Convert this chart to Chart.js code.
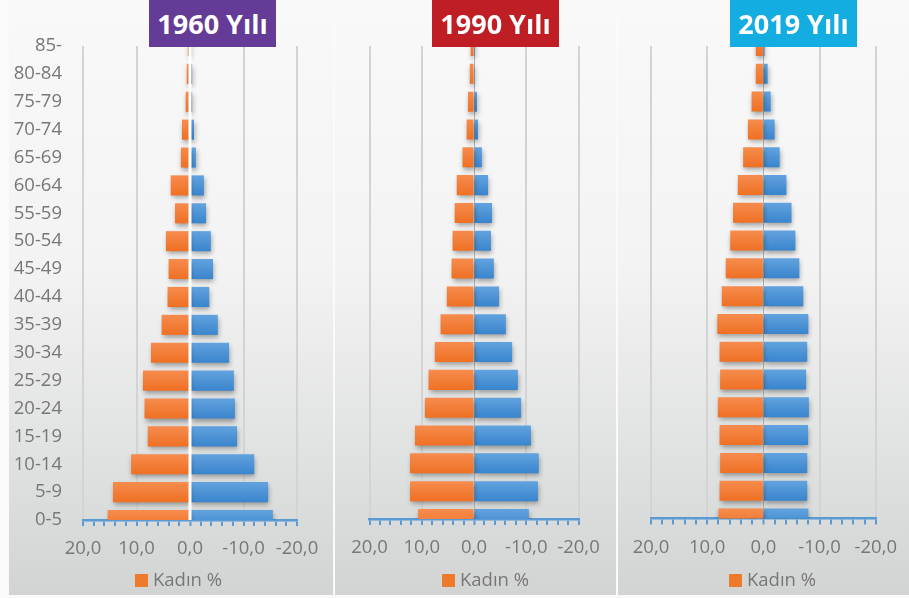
<!DOCTYPE html>
<html>
<head>
<meta charset="utf-8">
<script src="https://cdn.jsdelivr.net/npm/chart.js@4/dist/chart.umd.min.js"></script>
<style>
  body { margin: 0; width: 909px; height: 598px; background: #fafafa; position: relative; overflow: hidden; font-family: "Open Sans", sans-serif; }
  .panel { position: absolute; top: 0; height: 595px; background: linear-gradient(#f9f9f9 0%, #f3f3f3 45%, #d2d4d4 100%); }
  canvas { position: absolute; top: 0; }
  .badge { position: absolute; top: 0; height: 47px; line-height: 47px; color: #fff; font-weight: bold; font-size: 27px; text-align: center; }
  .legend { position: absolute; top: 567px; font-size: 18.5px; color: #777; line-height: 24px; white-space: nowrap; }
  .legend span.box { display: inline-block; width: 13px; height: 13px; background: #f07a2c; margin-right: 5px; vertical-align: -1px; }
</style>
</head>
<body>
<div class="panel" style="left:9px;width:324px"></div>
<div class="panel" style="left:335px;width:281px"></div>
<div class="panel" style="left:618px;width:291px"></div>

<canvas id="c1960" width="324" height="595" style="left:9px"></canvas>
<canvas id="c1990" width="281" height="595" style="left:335px"></canvas>
<canvas id="c2019" width="291" height="595" style="left:618px"></canvas>

<div class="badge" style="left:149px;width:127px;background:#643b97">1960 Yılı</div>
<div class="badge" style="left:432px;width:127px;background:#c01e25">1990 Yılı</div>
<div class="badge" style="left:730px;width:127px;background:#14ade2">2019 Yılı</div>

<div class="legend" style="left:135px"><span class="box"></span>Kadın %</div>
<div class="legend" style="left:442px"><span class="box"></span>Kadın %</div>
<div class="legend" style="left:729px"><span class="box"></span>Kadın %</div>

<script>
const ages = ["0-5", "5-9", "10-14", "15-19", "20-24", "25-29", "30-34", "35-39", "40-44",
  "45-49", "50-54", "55-59", "60-64", "65-69", "70-74", "75-79", "80-84", "85-"];

const xTicks = [20, 10, 0, -10, -20];

// kadın on the left (positive), erkek on the right (negative)
const kadin1960 = [15.4, 14.4, 11.0, 7.9, 8.5, 8.8, 7.3, 5.3, 4.2, 4.0, 4.5, 2.8, 3.6, 1.7, 1.5, 0.8, 0.6, 0.4];
const erkek1960 = [-15.5, -14.6, -12.0, -8.8, -8.4, -8.2, -7.3, -5.2, -3.6, -4.3, -3.9, -3.0, -2.6, -1.1, -0.75, -0.4, -0.4, -0.2];

const kadin1990 = [10.7, 12.25, 12.25, 11.3, 9.4, 8.7, 7.5, 6.4, 5.2, 4.3, 4.1, 3.7, 3.3, 2.2, 1.4, 1.15, 0.8, 0.64];
const erkek1990 = [-10.5, -12.25, -12.4, -10.9, -9.0, -8.4, -7.3, -6.1, -4.8, -3.8, -3.25, -3.45, -2.7, -1.5, -0.77, -0.57, -0.15, -0.2];

const kadin2019 = [8.0, 7.8, 7.7, 7.8, 8.1, 7.7, 7.8, 8.2, 7.4, 6.7, 5.9, 5.4, 4.55, 3.6, 2.75, 2.1, 1.35, 1.35];
const erkek2019 = [-8.0, -7.8, -7.8, -7.95, -8.1, -7.6, -7.8, -8.0, -7.1, -6.4, -5.7, -5.0, -4.1, -2.9, -2.0, -1.3, -0.76, -0.2];

const GREY = "#777777";
const AXIS_BLUE = "#5b9bd5";

// vertical gradient per bar, like the office "subtle effect" fill
const barFill = (top, bottom) => (ctx) => {
  const chart = ctx.chart;
  const y = chart.scales && chart.scales.y;
  if (!y || ctx.type !== "data") return bottom;
  const cy = y.getPixelForValue(ctx.dataIndex);
  if (!isFinite(cy)) return bottom;
  const g = chart.ctx.createLinearGradient(0, cy - 10, 0, cy + 10);
  g.addColorStop(0, top);
  g.addColorStop(1, bottom);
  return g;
};

const barShadow = {
  id: "barShadow",
  beforeDatasetsDraw(chart) {
    const c = chart.ctx;
    c.save();
    c.shadowColor = "rgba(0,0,0,0.35)";
    c.shadowBlur = 5;
    c.shadowOffsetX = 1;
    c.shadowOffsetY = 3;
  },
  afterDatasetsDraw(chart) {
    chart.ctx.restore();
  },
};

const centerLine = {
  id: "centerLine",
  afterDatasetsDraw(chart, args, opts) {
    if (!opts.color) return;
    const c = chart.ctx;
    const x = chart.scales.x.getPixelForValue(0);
    c.save();
    c.strokeStyle = opts.color;
    c.lineWidth = opts.width;
    c.beginPath();
    c.moveTo(x, chart.chartArea.top);
    c.lineTo(x, chart.chartArea.bottom);
    c.stroke();
    c.restore();
  },
};

function makePyramid(id, kadin, erkek, box) {
  const ctx = document.getElementById(id).getContext("2d");
  return new Chart(ctx, {
    type: "bar",
    data: {
      labels: ages,
      datasets: [
        {
          label: "Kadın %",
          data: kadin,
          backgroundColor: barFill("#f68c4e", "#ef7023"),
          borderWidth: 0,
        },
        {
          label: "Erkek %",
          data: erkek,
          backgroundColor: barFill("#62a3de", "#3985cd"),
          borderWidth: 0,
        },
      ],
    },
    options: {
      indexAxis: "y",
      responsive: false,
      animation: false,
      layout: {
        padding: { left: box.left, right: box.right, top: 46, bottom: box.bottom },
      },
      datasets: {
        bar: { categoryPercentage: 1, barPercentage: 0.72 },
      },
      scales: {
        x: {
          stacked: true,
          reverse: true,
          min: -20,
          max: 20,
          ticks: {
            stepSize: 2,
            autoSkip: false,
            maxRotation: 0,
            padding: 12,
            color: GREY,
            font: { family: "Open Sans", size: 18.5 },
            callback: (v) => (xTicks.includes(v) ? v.toFixed(1).replace(".", ",") : ""),
          },
          grid: {
            color: (c) => {
              const v = c.tick ? c.tick.value : null;
              if (v === 0) return box.zeroColor;
              return xTicks.includes(v) ? "#d3d3d3" : "rgba(0,0,0,0)";
            },
            lineWidth: (c) => (c.tick && c.tick.value === 0 ? 1 : 2),
            tickColor: AXIS_BLUE,
            tickLength: 6,
            tickWidth: 2,
          },
          border: { display: true, color: AXIS_BLUE, width: 2.5 },
          afterFit: (s) => { s.height = 40; },
        },
        y: {
          stacked: true,
          reverse: true,
          offset: false,
          display: box.showAges,
          grid: { display: false, drawTicks: false },
          border: { display: false },
          ticks: {
            padding: 21,
            color: GREY,
            font: { family: "Open Sans", size: 18.5 },
          },
          afterFit: (s) => { s.width = box.yWidth; },
        },
      },
      plugins: {
        legend: { display: false },
        tooltip: { enabled: false },
        centerLine: { color: box.centerColor, width: 3 },
      },
    },
    plugins: [barShadow, centerLine],
  });
}

makePyramid("c1960", kadin1960, erkek1960, {
  left: 0, right: 36, bottom: 35, yWidth: 74, showAges: true,
  zeroColor: "rgba(0,0,0,0)", centerColor: "#ffffff",
});
makePyramid("c1990", kadin1990, erkek1990, {
  left: 34.5, right: 37.5, bottom: 36, yWidth: 0, showAges: false,
  zeroColor: "#b3b3b3", centerColor: null,
});
makePyramid("c2019", kadin2019, erkek2019, {
  left: 33, right: 30, bottom: 36.5, yWidth: 0, showAges: false,
  zeroColor: "#b3b3b3", centerColor: null,
});
</script>
</body>
</html>
